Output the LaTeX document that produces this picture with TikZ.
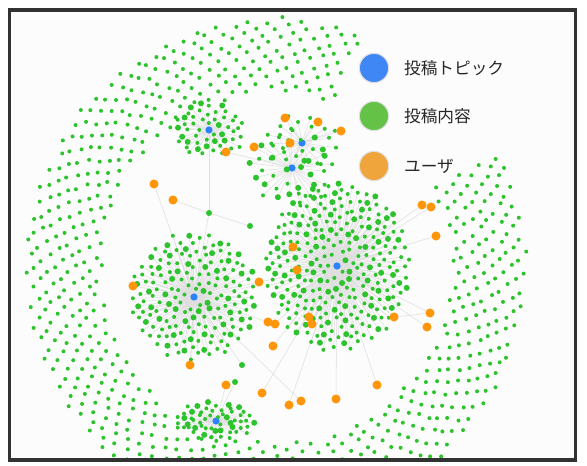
\documentclass[tikz,border=0pt]{standalone}
\usepackage{fontspec}
\newfontfamily\jpfont{Noto Sans CJK JP}
\usetikzlibrary{positioning}
\definecolor{topicblue}{RGB}{45,130,250}
\definecolor{postgreen}{RGB}{45,195,45}
\definecolor{userorange}{RGB}{255,150,10}
\definecolor{keyblue}{RGB}{62,135,245}
\definecolor{keygreen}{RGB}{100,195,70}
\definecolor{keyorange}{RGB}{240,165,60}
\definecolor{framegray}{RGB}{50,50,50}
\definecolor{edgegray}{RGB}{222,222,222}
\definecolor{paper}{RGB}{252,252,252}

\tikzstyle{post} = [circle, inner sep=0pt, minimum size=3pt, fill=postgreen]
\tikzstyle{bigpost} = [post, minimum size=4.5pt]
\tikzstyle{topic} = [circle, inner sep=0pt, minimum size=5.5pt, fill=topicblue]
\tikzstyle{user} = [circle, inner sep=0pt, minimum size=6.8pt, fill=userorange]
\tikzstyle{key} = [circle, inner sep=0pt, minimum size=22pt, draw=black!12, line width=0.8pt]
\tikzstyle{keytext} = [inner sep=0pt, font=\jpfont\fontsize{12.5}{14}\selectfont, text=black!85]
\tikzstyle{edge} = [draw=edgegray, line width=0.4pt]

\pgfdeclarelayer{back}
\pgfdeclarelayer{edges}
\pgfsetlayers{back,edges,main}

% posts around one topic: name, x, y, step, first, last, xscale, yscale
\newcommand{\postcluster}[8]{%
  \foreach \i in {#5,...,#6}{
    \pgfmathsetmacro{\ang}{360*(\i*0.381966-floor(\i*0.381966))}
    \pgfmathsetmacro{\rad}{#4*sqrt(\i)}
    \coordinate (#1p\i) at ({#2+#7*\rad*cos(\ang)+1.5*rand},{#3+#8*\rad*sin(\ang)+1.5*rand});
  }
  \begin{pgfonlayer}{edges}
    \foreach \i in {#5,...,#6} \draw[edge] (#1) -- (#1p\i);
  \end{pgfonlayer}
  \foreach \i in {#5,...,#6}{
    \pgfmathtruncatemacro{\isbig}{mod(\i*7,11)<3}
    \ifnum\isbig=1 \node[bigpost] (#1\i) at (#1p\i) {}; \else \node[post] (#1\i) at (#1p\i) {}; \fi
  }}

\begin{document}
\begin{tikzpicture}[x=0.75pt, y=-0.75pt]
  \useasboundingbox (0,0) rectangle (587,466);
  \pgfmathsetseed{3}
  \begin{pgfonlayer}{back}
    \fill[paper] (9.5,10) rectangle (575.5,460);
  \end{pgfonlayer}

  \begin{scope}
    \clip (10,11) rectangle (575,459);
    % outer ring of single posts
    \foreach \i in {770,...,1580}{
      \pgfmathsetmacro{\ang}{360*(\i*0.381966-floor(\i*0.381966))}
      \pgfmathtruncatemacro{\gap}{and(\ang>290,\ang<333)}
      \ifnum\gap=0
        \pgfmathsetmacro{\rad}{6.3*sqrt(\i)}
        \node[post] (R\i) at ({276+\rad*cos(\ang)+1.6*rand},{268+\rad*sin(\ang)+1.6*rand}) {};
      \fi}

    % topics
    \node[topic] (tL) at (194,297) {};
    \node[topic] (tR) at (337,266) {};
    \node[topic] (tM) at (292,168) {};
    \node[topic] (tT) at (302,143) {};
    \node[topic] (tA) at (209,130) {};
    \node[topic] (tB) at (216,421) {};

    \postcluster{tL}{194}{297}{4.8}{2}{175}{1}{1}
    \postcluster{tR}{337}{266}{4.7}{3}{275}{0.93}{1.08}
    \postcluster{tM}{292}{168}{7}{5}{38}{1}{0.9}
    \postcluster{tT}{302}{143}{7}{4}{28}{1.05}{0.75}
    \postcluster{tA}{209}{130}{5.2}{2}{50}{1}{0.75}
    \postcluster{tB}{216}{421}{5}{2}{55}{1.05}{0.52}

    % loose posts
    \node[bigpost] (g1) at (209,213) {};
    \node[bigpost] (g2) at (250,226) {};
    \node[bigpost] (g3) at (235,382) {};
    \node[bigpost] (g4) at (242,365) {};

    % users
    \foreach \n/\x/\y in {1/154/184, 2/173/200, 3/226/152, 4/254/147, 5/285/118,
        6/318/122, 7/341/131, 8/290/143, 9/422/205, 10/431/207, 11/436/236,
        12/293/247, 13/297/270, 14/259/282, 15/133/286, 16/268/322, 17/275/324,
        18/309/317, 19/312/324, 20/394/317, 21/430/313, 22/427/327, 23/273/346,
        24/190/365, 25/226/385, 26/262/393, 27/289/405, 28/301/401, 29/336/399,
        30/377/385}
      \node[user] (u\n) at (\x,\y) {};

    \begin{pgfonlayer}{edges}
      \foreach \a/\b in {u1/tL, u2/g1, g1/tA, g1/g2, g1/tL, u3/tM, u4/tM, u5/tT,
          u6/tT, u7/tT, u8/tT, u3/tA, u9/tR, u10/tR, u11/tR, u12/tR, u13/tR,
          u14/tL, u14/tR, u15/tL, u16/tL, u17/tR, u18/tR, u19/tR, u20/tR,
          u21/tR, u22/tR, u23/tR, u24/tL, u25/tB, g3/tB, g4/tL, u26/tR,
          u27/tR, u28/tL, u29/tR, u30/tR, u20/u21}
        \draw[edge] (\a) -- (\b);
    \end{pgfonlayer}
  \end{scope}

  % legend
  \node[key, fill=keyblue] (kb) at (374,68) {};
  \node[key, fill=keygreen] (kg) at (374,116) {};
  \node[key, fill=keyorange] (ko) at (374,166) {};
  \node[keytext, right=11pt of kb] (lb) {投稿トピック};
  \node[keytext, right=11pt of kg] (lg) {投稿内容};
  \node[keytext, right=11pt of ko] (lo) {ユーザ};

  \draw[framegray, line width=2.3pt] (9.5,10) rectangle (575.5,460);
\end{tikzpicture}
\end{document}
